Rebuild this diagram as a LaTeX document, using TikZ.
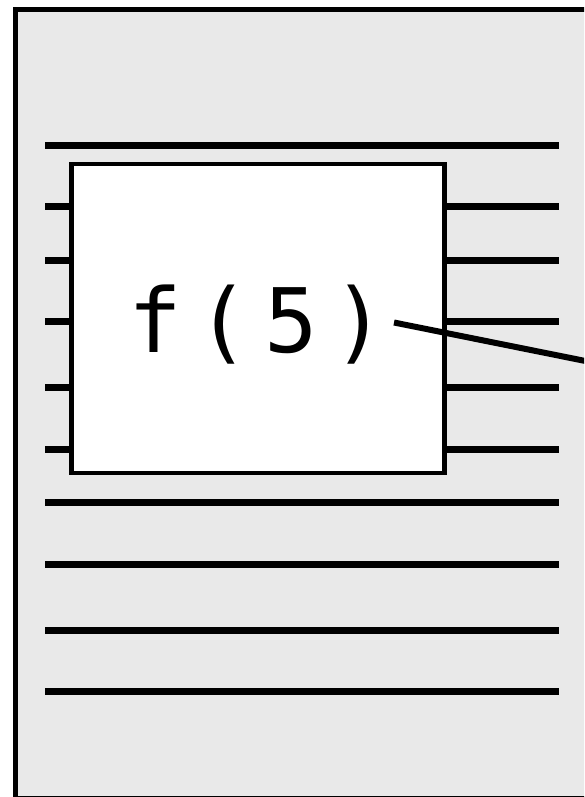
\documentclass[tikz,border=0pt]{standalone}
\usepackage{fontspec}
\newfontfamily\codefont{DejaVu Sans Mono}
\definecolor{pagegray}{HTML}{E9E9E9}
\begin{document}
\begin{tikzpicture}[x=1pt,y=-1pt,
  rule/.style={line width=7pt,line cap=butt},
  pagebox/.style={draw=black,line width=5pt,fill=pagegray},
  funcbox/.style={draw=black,line width=4.5pt,fill=white,inner sep=0pt},
  pointer/.style={line width=6pt,line cap=butt}]
\useasboundingbox (0,0) rectangle (584,797);
\begin{scope}
\clip (0,0) rectangle (584,797);
\path[pagebox] (15,9.5) rectangle (640,798.5);
\foreach \y [count=\i] in {145.5,206.5,260,321.5,387.5,449,502,564,630.5,691.5}{
  \coordinate (l\i) at (45,\y);
  \coordinate (r\i) at (559,\y);
  \draw[rule] (l\i) -- (r\i);
}
\node[funcbox,minimum width=373pt,minimum height=309pt] (box) at (258,318.5) {};
\node[anchor=base,inner sep=0pt] (fx) at (257,352)
  {\codefont\fontsize{89}{89}\selectfont\makebox[68pt]{f}\makebox[68pt]{(}\makebox[68pt]{5}\makebox[68pt]{)}};
\coordinate (p0) at (394,322.5);
\coordinate (p1) at (660,376);
\draw[pointer] (p0) -- (p1);
\end{scope}
\end{tikzpicture}
\end{document}
